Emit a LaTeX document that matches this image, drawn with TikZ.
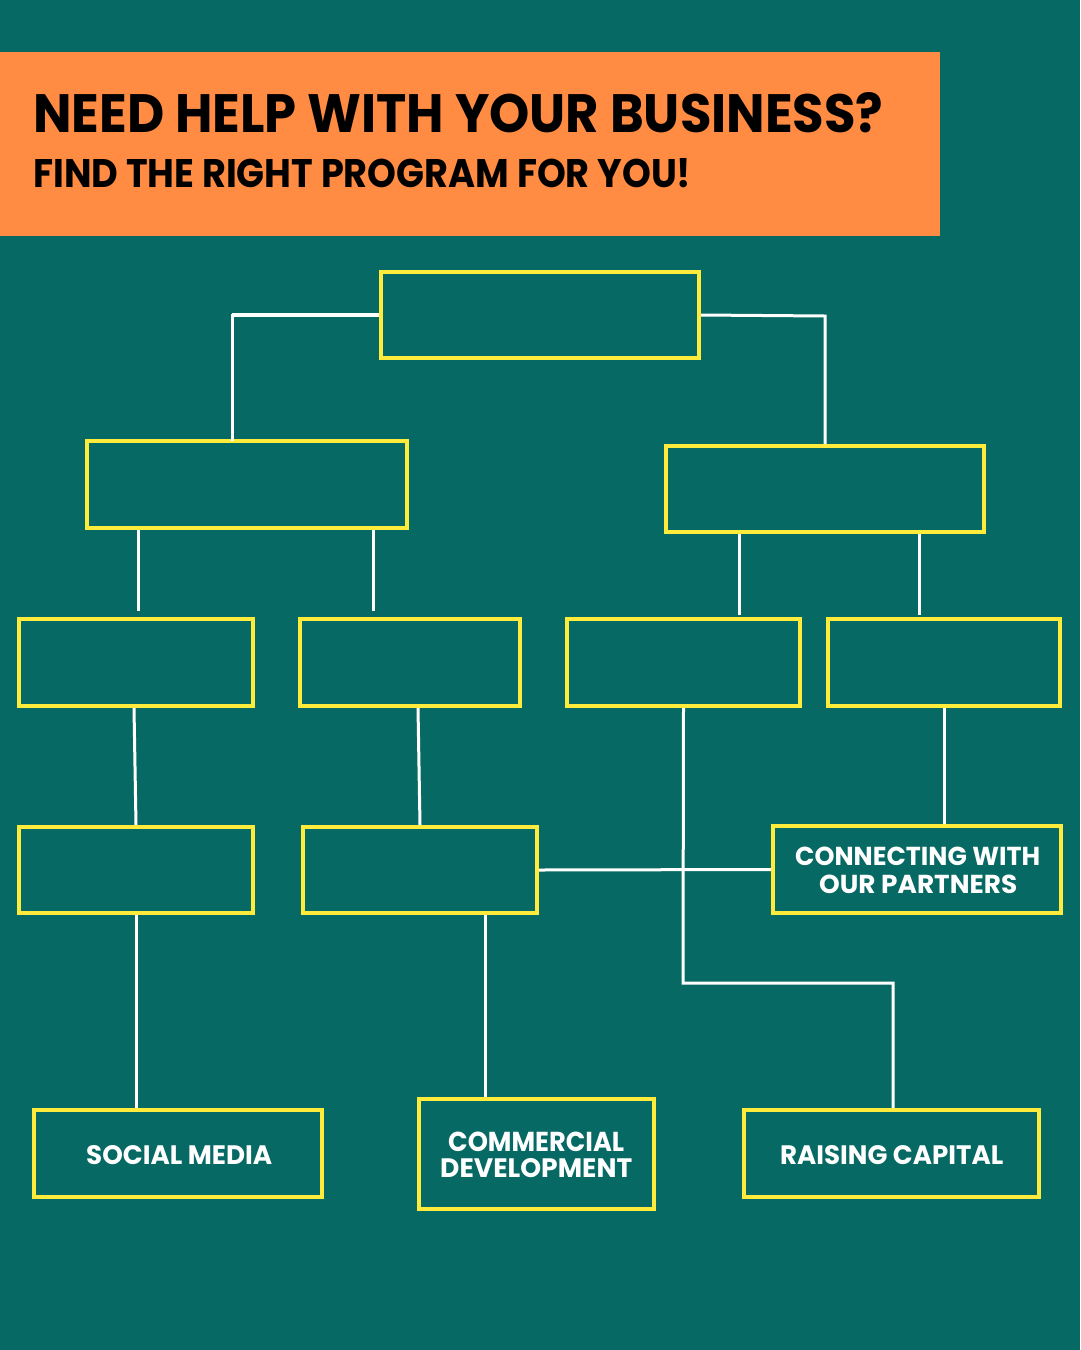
\documentclass[tikz,border=0pt]{standalone}
\usepackage{graphicx}
\usepackage{fontspec}
\setmainfont{Poppins}
\definecolor{teal}{RGB}{6,105,99}
\definecolor{orng}{RGB}{255,140,66}
\definecolor{ylw}{RGB}{255,235,59}
\newcommand\fitt[3]{\resizebox{#1pt}{#2pt}{\bfseries #3}}
\tikzset{
  box/.style={draw=ylw, line width=4pt, inner sep=0pt, fill=none},
  wire/.style={draw=white, line width=3pt},
  txt/.style={inner sep=0pt, anchor=base west, text=white},
  ttl/.style={inner sep=0pt, anchor=base west, text=black}
}
\begin{document}
\begin{tikzpicture}[x=1pt,y=-1pt]
\useasboundingbox (0,0) rectangle (1080,1350);
\fill[teal] (0,0) rectangle (1080,1350);
% banner
\node[fill=orng, inner sep=0pt, minimum width=940pt, minimum height=184pt, anchor=north west] (banner) at (0,52) {};
\node[ttl] (title) at (33,132) {\fitt{850}{40}{NEED HELP WITH YOUR BUSINESS?}};
\node[ttl] (subtitle) at (33,187) {\fitt{658}{29}{FIND THE RIGHT PROGRAM FOR YOU!}};
% boxes
\node[box, minimum width=318pt, minimum height=86pt] (top) at (540,315) {};
\node[box, minimum width=320pt, minimum height=87pt] (l2a) at (247,484.5) {};
\node[box, minimum width=318pt, minimum height=86pt] (l2b) at (825,489) {};
\node[box, minimum width=234pt, minimum height=87pt] (l3a) at (136,662.5) {};
\node[box, minimum width=220pt, minimum height=87pt] (l3b) at (410,662.5) {};
\node[box, minimum width=233pt, minimum height=87pt] (l3c) at (683.5,662.5) {};
\node[box, minimum width=232pt, minimum height=87pt] (l3d) at (944,662.5) {};
\node[box, minimum width=234pt, minimum height=86pt] (l4a) at (136,870) {};
\node[box, minimum width=234pt, minimum height=86pt] (l4b) at (420,870) {};
\node[box, minimum width=288pt, minimum height=87pt] (conn) at (917,869.5) {};
\node[box, minimum width=288pt, minimum height=87pt] (social) at (178,1153.5) {};
\node[box, minimum width=235pt, minimum height=110pt] (comm) at (536.5,1154) {};
\node[box, minimum width=295pt, minimum height=87pt] (raise) at (891.5,1153.5) {};
% box texts
\node[txt] (connA) at (795,865) {\fitt{245}{18.5}{CONNECTING WITH}};
\node[txt] (connB) at (819,893) {\fitt{198}{18.5}{OUR PARTNERS}};
\node[txt] (socialT) at (86,1164) {\fitt{186}{19}{SOCIAL MEDIA}};
\node[txt] (commA) at (448,1151) {\fitt{176}{19.5}{COMMERCIAL}};
\node[txt] (commB) at (440,1177) {\fitt{192}{19}{DEVELOPMENT}};
\node[txt] (raiseT) at (780,1164) {\fitt{223}{19}{RAISING CAPITAL}};
% connector coordinates
\coordinate (tl) at (232,315);
\coordinate (tr) at (825,316);
\coordinate (a1) at (138,611);
\coordinate (a2) at (373,611);
\coordinate (b1) at (739,615);
\coordinate (b2) at (919,615);
\coordinate (cbend1) at (683,983);
\coordinate (cbend2) at (893,983);
% connectors
\draw[wire, line width=4.5pt] (top.west) -- (tl);
\draw[wire, line cap=rect] (tl) -- (tl |- l2a.north);
\draw[wire] (top.east) -- (tr) -- (tr |- l2b.north);
\draw[wire] (a1 |- l2a.south) -- (a1);
\draw[wire] (a2 |- l2a.south) -- (a2);
\draw[wire] (b1 |- l2b.south) -- (b1);
\draw[wire] (b2 |- l2b.south) -- (b2);
\draw[wire] ([xshift=-2pt]l3a.south) -- (l4a.north);
\draw[wire] ([xshift=8pt]l3b.south) -- (l4b.north);
\draw[wire] (l3c.south) -- (cbend1) -- (cbend2) -- (cbend2 |- raise.north);
\draw[wire] (l3d.south) -- (conn.north -| l3d.south);
\draw[wire] (l4b.east) -- (conn.west);
\draw[wire] (l4a.south) -- (l4a.south |- social.north);
\draw[wire] ([xshift=65pt]l4b.south) -- ([xshift=65pt]l4b.south |- comm.north);
\end{tikzpicture}
\end{document}
